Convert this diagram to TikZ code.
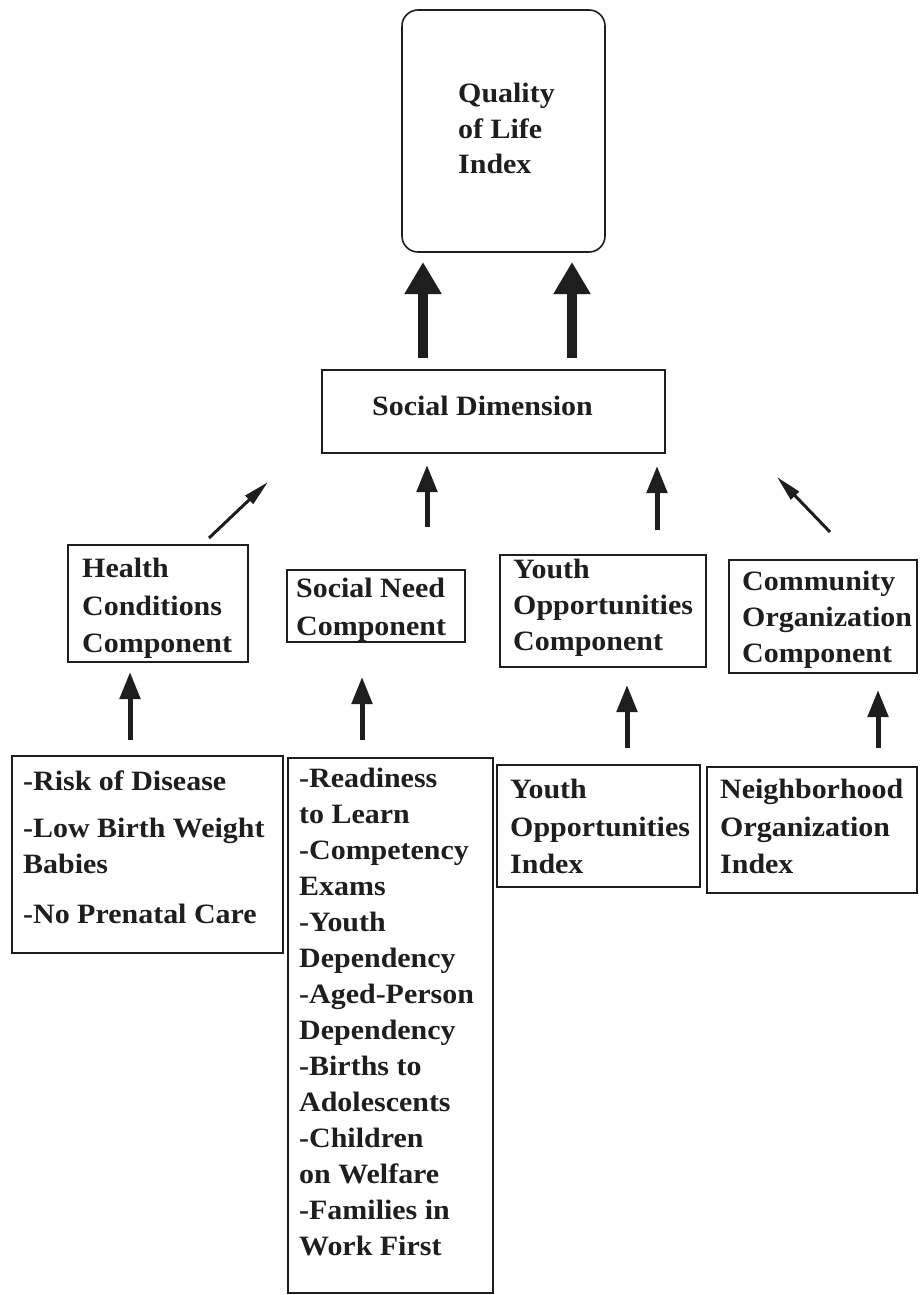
\documentclass[tikz,border=0pt]{standalone}
\usepackage{fontspec}
\setmainfont{Liberation Serif}[FakeStretch=1.07]
\usetikzlibrary{arrows.meta}
\definecolor{ink}{HTML}{1E1E1E}
\begin{document}
\begin{tikzpicture}[x=1pt,y=-1pt,
  box/.style={draw=ink, line width=1.6pt, inner sep=0pt, outer sep=0pt, rectangle},
  txt/.style={inner sep=0pt, anchor=north west, align=left, text=ink,
              font=\bfseries\fontsize{28}{#1}\selectfont},
  txt/.default=36,
  bigarrow/.style={draw=ink, line width=10pt, -{Triangle[width=35pt,length=32pt]}},
  smallarrow/.style={draw=ink, line width=5pt, -{Triangle[width=20pt,length=27pt]}},
  thinarrow/.style={draw=ink, line width=3pt, -{Triangle[width=11pt,length=26pt]}},
]
\useasboundingbox[fill=white] (0,0) rectangle (919,1295);

% boxes
\node[box, rounded corners=16pt, minimum width=203pt, minimum height=242pt] (qli) at (503.5,131) {};
\node[box, minimum width=343pt, minimum height=83pt]  (sd)   at (493.5,411.5) {};
\node[box, minimum width=180pt, minimum height=117pt] (hc)   at (158,603.5) {};
\node[box, minimum width=178pt, minimum height=72pt]  (sn)   at (376,606) {};
\node[box, minimum width=206pt, minimum height=112pt] (yc)   at (603,611) {};
\node[box, minimum width=188pt, minimum height=113pt] (cc)   at (823,616.5) {};
\node[box, minimum width=271pt, minimum height=197pt] (risk) at (147.5,854.5) {};
\node[box, minimum width=205pt, minimum height=535pt] (rd)   at (390.5,1025.5) {};
\node[box, minimum width=203pt, minimum height=122pt] (yi)   at (598.5,826) {};
\node[box, minimum width=210pt, minimum height=126pt] (no)   at (812,830) {};

% labels
\node[txt=35.5] (qlit) at (458,83) {Quality\\of Life\\Index};
\node[txt] (sdt) at (372,396) {Social Dimension};
\node[txt=37.5] (hct) at (82,558) {Health\\Conditions\\Component};
\node[txt=38] (snt) at (296,578) {Social Need\\Component};
\node[txt] (yct) at (513,559) {Youth\\Opportunities\\Component};
\node[txt] (cct) at (742,571) {Community\\Organization\\Component};
\node[txt] (riskt) at (23,771) {-Risk of Disease\\[11pt]-Low Birth Weight\\Babies\\[14pt]-No Prenatal Care};
\node[txt] (rdt) at (299,768) {-Readiness\\to Learn\\-Competency\\Exams\\-Youth\\Dependency\\-Aged-Person\\Dependency\\-Births to\\Adolescents\\-Children\\on Welfare\\-Families in\\Work First};
\node[txt=37.5] (yit) at (510,779) {Youth\\Opportunities\\Index};
\node[txt=37.5] (not) at (720,779) {Neighborhood\\Organization\\Index};

% social dimension feeds the index
\draw[bigarrow] ([xshift=-70.5pt,yshift=12pt]sd.north) -- ([xshift=-80.5pt,yshift=-10pt]qli.south);
\draw[bigarrow] ([xshift=78.5pt,yshift=12pt]sd.north) -- ([xshift=68.5pt,yshift=-10pt]qli.south);

% components feed the social dimension
\draw[thinarrow]  ([xshift=-39pt,yshift=7pt]hc.north east) -- ([xshift=-54pt,yshift=-29pt]sd.south west);
\draw[smallarrow] ([xshift=51pt,yshift=43pt]sn.north) -- ([xshift=-66.5pt,yshift=-12pt]sd.south);
\draw[smallarrow] ([xshift=54pt,yshift=25pt]yc.north) -- ([xshift=163.5pt,yshift=-13pt]sd.south);
\draw[thinarrow]  ([xshift=101pt,yshift=28pt]cc.north west) -- ([xshift=112pt,yshift=-24pt]sd.south east);

% indicators feed the components
\draw[smallarrow] ([xshift=-17.5pt,yshift=16pt]risk.north) -- ([xshift=-28pt,yshift=-10pt]hc.south);
\draw[smallarrow] ([xshift=-28.5pt,yshift=18pt]rd.north) -- ([xshift=-14pt,yshift=-35pt]sn.south);
\draw[smallarrow] ([xshift=28.5pt,yshift=17pt]yi.north) -- ([xshift=24pt,yshift=-18pt]yc.south);
\draw[smallarrow] ([xshift=66pt,yshift=19pt]no.north) -- ([xshift=55pt,yshift=-17pt]cc.south);
\end{tikzpicture}
\end{document}
